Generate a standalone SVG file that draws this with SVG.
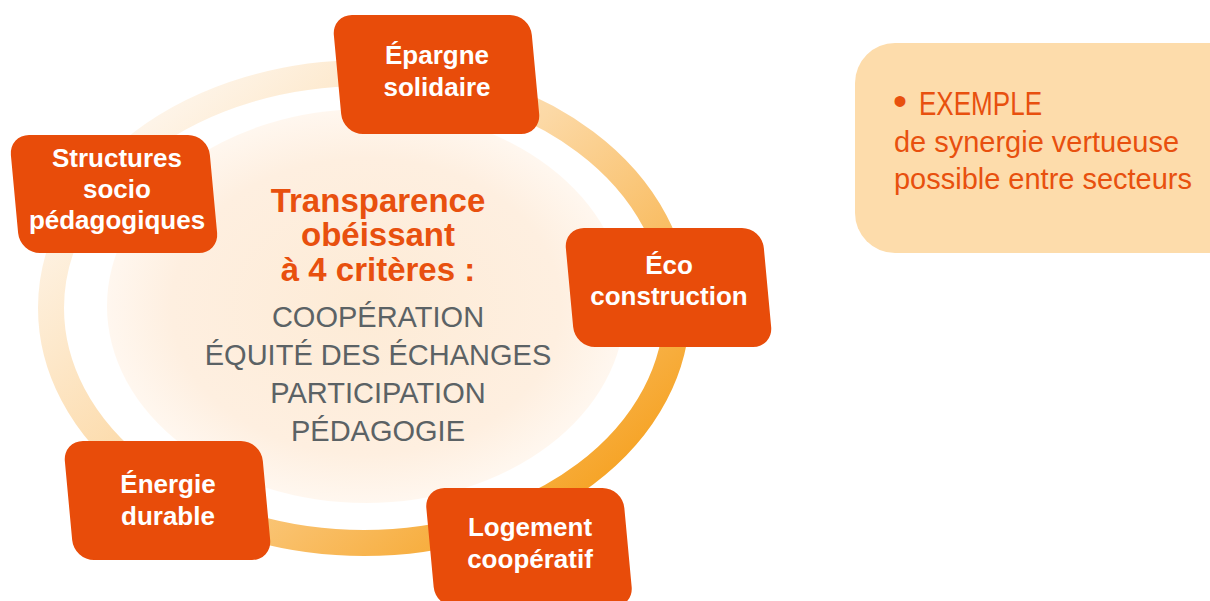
<svg xmlns="http://www.w3.org/2000/svg" width="1210" height="601" viewBox="0 0 1210 601">
<defs>
<linearGradient id="ringGrad" x1="0.1" y1="0.15" x2="0.9" y2="0.85">
<stop offset="0" stop-color="#fef5ea"/>
<stop offset="0.45" stop-color="#fcd9a6"/>
<stop offset="1" stop-color="#f6a427"/>
</linearGradient>
<radialGradient id="discGrad" cx="0.5" cy="0.5" r="0.5">
<stop offset="0" stop-color="#fdebd6"/>
<stop offset="0.75" stop-color="#feefe0"/>
<stop offset="1" stop-color="#fff7ef"/>
</radialGradient>
<style>
.box{fill:#e84c0a;}
.bt{font-family:"Liberation Sans",Arial,sans-serif;font-weight:bold;font-size:26px;fill:#ffffff;text-anchor:middle;}
.ct{font-family:"Liberation Sans",Arial,sans-serif;font-weight:bold;font-size:33px;fill:#e8500e;text-anchor:middle;}
.gt{font-family:"Liberation Sans",Arial,sans-serif;font-size:29px;fill:#5b6265;text-anchor:middle;}
.et{font-family:"Liberation Sans",Arial,sans-serif;fill:#e8500e;}
</style>
</defs>
<rect width="1210" height="601" fill="#ffffff"/>
<g id="center">
<ellipse cx="366" cy="306" rx="259" ry="197" fill="url(#discGrad)"/>
<text class="ct" x="378" y="212">Transparence</text>
<text class="ct" x="378" y="246">obéissant</text>
<text class="ct" x="378" y="281">à 4 critères :</text>
<text class="gt" x="378" y="327">COOPÉRATION</text>
<text class="gt" x="378" y="365">ÉQUITÉ DES ÉCHANGES</text>
<text class="gt" x="378" y="403">PARTICIPATION</text>
<text class="gt" x="378" y="441">PÉDAGOGIE</text>
</g>
<g id="connectors">
<ellipse cx="364" cy="308" rx="313" ry="235" fill="none" stroke="url(#ringGrad)" stroke-width="26"/>
</g>
<g id="epargne">
<rect class="box" x="-99" y="-59.5" width="198" height="119" rx="20" transform="translate(436.5,74.5) skewX(5.3)"/>
<text class="bt" x="437" y="64">Épargne</text>
<text class="bt" x="437" y="96">solidaire</text>
</g>
<g id="structures">
<rect class="box" x="-99.5" y="-59" width="199" height="118" rx="20" transform="translate(114,194) skewX(5.3)"/>
<text class="bt" x="117" y="167">Structures</text>
<text class="bt" x="117" y="198">socio</text>
<text class="bt" x="117" y="229">pédagogiques</text>
</g>
<g id="eco">
<rect class="box" x="-99" y="-59.5" width="198" height="119" rx="20" transform="translate(668.5,287.5) skewX(5.3)"/>
<text class="bt" x="669" y="274">Éco</text>
<text class="bt" x="669" y="305">construction</text>
</g>
<g id="energie">
<rect class="box" x="-99" y="-59.5" width="198" height="119" rx="20" transform="translate(167.5,500.5) skewX(5.3)"/>
<text class="bt" x="168" y="493">Énergie</text>
<text class="bt" x="168" y="525">durable</text>
</g>
<g id="logement">
<rect class="box" x="-99" y="-59.5" width="198" height="119" rx="20" transform="translate(529,547.5) skewX(5.3)"/>
<text class="bt" x="530" y="536">Logement</text>
<text class="bt" x="530" y="568">coopératif</text>
</g>
<g id="exemple">
<rect x="855" y="43" width="400" height="210" rx="40" fill="#fddcab"/>
<text class="et" x="893" y="115" font-size="34"><tspan font-size="40">•</tspan><tspan x="919" textLength="123" lengthAdjust="spacingAndGlyphs">EXEMPLE</tspan></text>
<text class="et" x="894" y="152" font-size="29" textLength="285" lengthAdjust="spacingAndGlyphs">de synergie vertueuse</text>
<text class="et" x="894" y="189" font-size="29" textLength="298" lengthAdjust="spacingAndGlyphs">possible entre secteurs</text>
</g>
</svg>
